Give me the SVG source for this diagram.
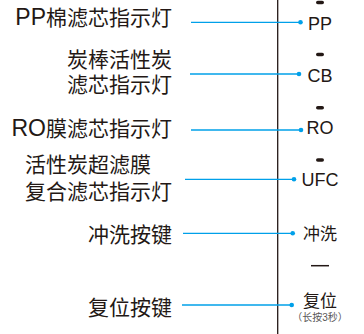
<svg xmlns="http://www.w3.org/2000/svg" width="364" height="334" viewBox="0 0 364 334">
<style>
text{font-family:"Liberation Sans","Noto Sans CJK SC",sans-serif;fill:#231815}
.lbl{font-size:21px;text-anchor:end}
.lbls{font-size:21px;text-anchor:start}
.lat{font-size:23px}
.key{font-size:18px;text-anchor:middle}
.keyc{font-size:17px;text-anchor:middle}
.note{font-size:10px;fill:#595757;text-anchor:middle}
.conn line{stroke:#00a0e9;stroke-width:1.3}
.conn circle{fill:#00a0e9}
.led{fill:#231815}
</style>
<rect width="364" height="334" fill="#fff"/>
<line x1="277.7" y1="0" x2="277.7" y2="334" stroke="#231815" stroke-width="1.3"/>
<g id="node-pp">
<text class="lbl" x="172" y="25"><tspan class="lat">PP</tspan>棉滤芯指示灯</text>
<rect class="led" x="316" y="0.7" width="8" height="3.6" rx="1.8"/>
<text class="key" x="320" y="30">PP</text>
</g>
<g id="node-cb">
<text class="lbl" x="172" y="67">炭棒活性炭</text>
<text class="lbl" x="172" y="91.5">滤芯指示灯</text>
<rect class="led" x="316" y="52.7" width="8" height="3.6" rx="1.8"/>
<text class="key" x="320" y="81.5">CB</text>
</g>
<g id="node-ro">
<text class="lbl" x="172" y="136"><tspan class="lat">RO</tspan>膜滤芯指示灯</text>
<rect class="led" x="316" y="105.9" width="8" height="3.6" rx="1.8"/>
<text class="key" x="320" y="133.5">RO</text>
</g>
<g id="node-ufc">
<text class="lbls" x="25" y="172">活性炭超滤膜</text>
<text class="lbls" x="25" y="198.5">复合滤芯指示灯</text>
<rect class="led" x="316" y="158.2" width="8" height="3.6" rx="1.8"/>
<text class="key" x="320" y="186">UFC</text>
</g>
<g id="node-rinse">
<text class="lbl" x="172" y="242">冲洗按键</text>
<text class="keyc" x="320" y="239.5">冲洗</text>
</g>
<g id="node-button">
<line x1="311" y1="265.7" x2="329" y2="265.7" stroke="#231815" stroke-width="1.5"/>
</g>
<g id="node-reset">
<text class="lbl" x="172" y="315">复位按键</text>
<text class="keyc" x="320" y="307">复位</text>
<text class="note" x="320" y="321">（长按3秒）</text>
</g>
<g id="connectors" class="conn">
<line x1="191" y1="22.3" x2="300.5" y2="22.3"/><circle cx="300.5" cy="22.3" r="2.3"/>
<line x1="190" y1="74" x2="299" y2="74"/><circle cx="299" cy="74" r="2.3"/>
<line x1="191" y1="130" x2="301" y2="130"/><circle cx="301" cy="130" r="2.3"/>
<line x1="185" y1="179.3" x2="294" y2="179.3"/><circle cx="294" cy="179.3" r="2.3"/>
<line x1="183" y1="233.3" x2="292.7" y2="233.3"/><circle cx="292.7" cy="233.3" r="2.3"/>
<line x1="182" y1="305" x2="291.7" y2="305"/><circle cx="291.7" cy="305" r="2.3"/>
</g>
</svg>
